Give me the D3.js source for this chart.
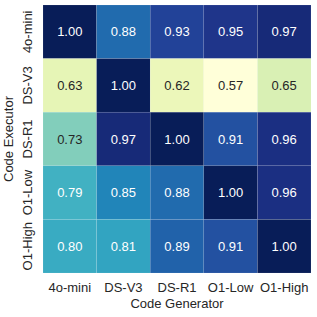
<!DOCTYPE html>
<html>
<head>
<meta charset="utf-8">
<script src="https://cdn.jsdelivr.net/npm/d3@7"></script>
<style>
  body { margin: 0; background: #fff; }
  text { font-family: "Liberation Sans", Arial, sans-serif; }
</style>
</head>
<body>
<div id="chart"></div>
<script>
// data
const generators = ["4o-mini", "DS-V3", "DS-R1", "O1-Low", "O1-High"];
const executors = ["4o-mini", "DS-V3", "DS-R1", "O1-Low", "O1-High"];
const values = [
    [1.00, 0.88, 0.93, 0.95, 0.97],
    [0.63, 1.00, 0.62, 0.57, 0.65],
    [0.73, 0.97, 1.00, 0.91, 0.96],
    [0.79, 0.85, 0.88, 1.00, 0.96],
    [0.80, 0.81, 0.89, 0.91, 1.00],
];

const W = 317, H = 317;
const margin = { top: 5, right: 6, bottom: 44, left: 43 };
const width = W - margin.left - margin.right;
const height = H - margin.top - margin.bottom;
const fs = 13;

const svg = d3.select("#chart")
    .append("svg")
    .attr("width", W)
    .attr("height", H)
    .append("g")
    .attr("transform", `translate(${margin.left},${margin.top})`);

const x = d3.scaleBand().domain(generators).range([0, width]);
const y = d3.scaleBand().domain(executors).range([0, height]);

const flat = values.flatMap((row, i) => row.map((v, j) => ({ r: executors[i], c: generators[j], v })));
const color = d3.scaleSequential(d3.interpolateYlGnBu)
    .domain(d3.extent(flat, d => d.v));

svg.selectAll("rect.cell")
    .data(flat)
    .join("rect")
    .attr("class", "cell")
    .attr("x", d => x(d.c))
    .attr("y", d => y(d.r))
    .attr("width", x.bandwidth())
    .attr("height", y.bandwidth())
    .attr("fill", d => color(d.v))
    .attr("stroke", "#fff")
    .attr("stroke-opacity", 0.2)
    .attr("stroke-width", 0.5);

svg.selectAll("text.val")
    .data(flat)
    .join("text")
    .attr("class", "val")
    .attr("x", d => x(d.c) + x.bandwidth() / 2)
    .attr("y", d => y(d.r) + y.bandwidth() / 2)
    .attr("text-anchor", "middle")
    .attr("dominant-baseline", "central")
    .attr("font-size", fs)
    .attr("fill", d => d.v > 0.76 ? "#fff" : "#262626")
    .text(d => d.v.toFixed(2));

// axes
const xAxis = svg.append("g")
    .attr("transform", `translate(0,${height})`)
    .call(d3.axisBottom(x).tickSize(0).tickPadding(9));
xAxis.select(".domain").remove();
xAxis.selectAll("text")
    .attr("font-size", fs)
    .attr("fill", "#262626")
    .attr("y", 19).attr("dy", null)
    .style("font-family", "Liberation Sans, Arial, sans-serif");

const yAxis = svg.append("g")
    .call(d3.axisLeft(y).tickSize(0).tickPadding(0));
yAxis.select(".domain").remove();
yAxis.selectAll("text")
    .attr("font-size", fs)
    .attr("fill", "#262626")
    .style("font-family", "Liberation Sans, Arial, sans-serif")
    .attr("x", null).attr("dy", null)
    .attr("text-anchor", "middle")
    .attr("transform", "translate(-11,0) rotate(-90)");

svg.append("text")
    .attr("x", width / 2)
    .attr("y", height + 35)
    .attr("text-anchor", "middle")
    .attr("font-size", fs)
    .attr("fill", "#262626")
    .text("Code Generator");

svg.append("text")
    .attr("transform", `translate(-30,${height / 2}) rotate(-90)`)
    .attr("text-anchor", "middle")
    .attr("font-size", fs)
    .attr("fill", "#262626")
    .text("Code Executor");
</script>
</body>
</html>
